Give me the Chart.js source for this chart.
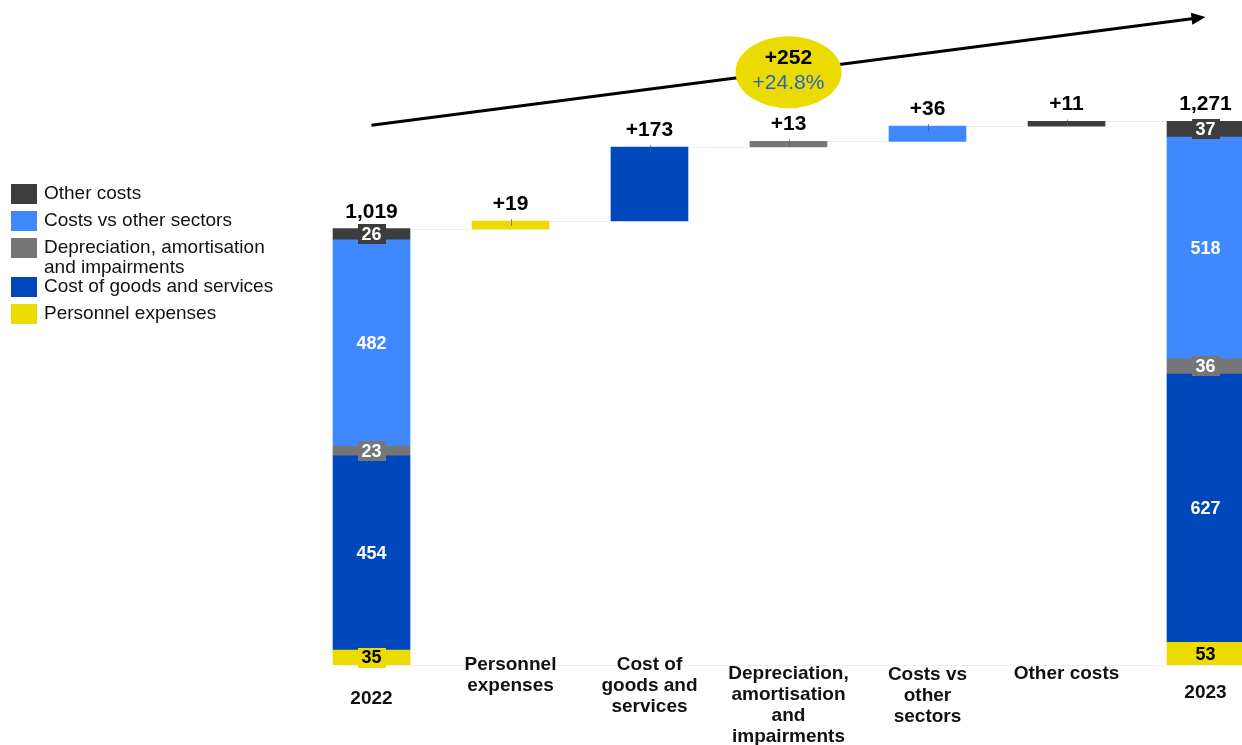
<!DOCTYPE html>
<html><head><meta charset="utf-8">
<script src="https://cdn.jsdelivr.net/npm/chart.js@4.4.0/dist/chart.umd.min.js"></script>
<style>
html,body{margin:0;padding:0;background:#fff;overflow:hidden;width:1242px;height:745px}
#wrap{position:absolute;left:0;top:0;width:1280px;height:745px}
</style></head><body>
<div id="wrap"><canvas id="c" width="1280" height="745"></canvas></div>
<script>
const categories = [['2022'], ['Personnel','expenses'], ['Cost of','goods and','services'], ['Depreciation,','amortisation','and','impairments'], ['Costs vs','other','sectors'], ['Other costs'], ['2023']];
const components = ['Personnel expenses','Cost of goods and services','Depreciation, amortisation and impairments','Costs vs other sectors','Other costs'];
const legendLabels = [['Personnel expenses'],['Cost of goods and services'],['Depreciation, amortisation','and impairments'],['Costs vs other sectors'],['Other costs']];
const values2022 = [35, 454, 23, 482, 26];
const values2023 = [53, 627, 36, 518, 37];
const deltas = [19, 173, 13, 36, 11];
const total2022 = 1019;
const total2023 = 1271;
const totalChange = 252;
const pctChange = 24.8;
const colors = ['#EBDB00', '#0047BB', '#767676', '#4088FF', '#3D3D3D'];

const FONT = "'Liberation Sans', Arial, sans-serif";
const last = categories.length - 1;
let s22 = 0, s23 = 0, run = total2022;
const datasets = components.map((name, i) => {
  const data = new Array(categories.length).fill(null);
  data[0] = [s22, s22 + values2022[i]]; s22 += values2022[i];
  data[i + 1] = [run, run + deltas[i]]; run += deltas[i];
  data[last] = [s23, s23 + values2023[i]]; s23 += values2023[i];
  return { label: name, data, backgroundColor: colors[i], borderWidth: 0, barThickness: 77 };
});

const annot = {
  id: 'annot',
  afterDatasetsDraw(chart, args, o) {
    const ctx = chart.ctx, xs = chart.scales.x, ys = chart.scales.y, area = chart.chartArea;
    ctx.save();
    // baseline
    const by = Math.round(ys.getPixelForValue(0)) + 0.5;
    ctx.strokeStyle = '#efefef'; ctx.lineWidth = 1;
    ctx.beginPath(); ctx.moveTo(area.left + 40, by); ctx.lineTo(area.right, by); ctx.stroke();
    // connectors
    ctx.strokeStyle = '#dddddd'; ctx.setLineDash([2, 2]);
    let lvl = total2022;
    for (let k = 0; k < last; k++) {
      if (k > 0) lvl += deltas[k - 1];
      const y = Math.round(ys.getPixelForValue(lvl)) + 0.5;
      ctx.beginPath();
      ctx.moveTo(xs.getPixelForValue(k) + 39, y);
      ctx.lineTo(xs.getPixelForValue(k + 1) - 39, y);
      ctx.stroke();
    }
    ctx.setLineDash([]);
    ctx.textAlign = 'center'; ctx.textBaseline = 'middle';
    // segment labels
    chart.data.datasets.forEach((ds, i) => {
      const meta = chart.getDatasetMeta(i);
      [[0, values2022[i]], [last, values2023[i]]].forEach(([j, v]) => {
        const el = meta.data[j];
        const h = Math.abs(el.base - el.y);
        const cy = (el.y + el.base) / 2;
        ctx.font = 'bold 18px ' + FONT;
        if (h < 24) {
          ctx.fillStyle = colors[i];
          ctx.fillRect(Math.round(el.x - 14), Math.round(cy - 10), 28, 20);
        }
        ctx.fillStyle = i === 0 ? '#000' : '#fff';
        ctx.fillText(String(v), el.x, cy + 1);
      });
      // delta labels
      const el = meta.data[i + 1];
      ctx.strokeStyle = 'rgba(90,90,90,0.7)'; ctx.lineWidth = 1;
      ctx.beginPath(); ctx.moveTo(Math.round(el.x) + 0.5, el.y - 2); ctx.lineTo(Math.round(el.x) + 0.5, el.y + 5); ctx.stroke();
      ctx.fillStyle = '#000'; ctx.font = 'bold 21px ' + FONT;
      ctx.fillText('+' + deltas[i], el.x, el.y - 17);
    });
    // totals
    ctx.font = 'bold 21px ' + FONT; ctx.fillStyle = '#000';
    const n = chart.data.datasets.length - 1;
    const t0 = chart.getDatasetMeta(n).data[0], t1 = chart.getDatasetMeta(n).data[last];
    ctx.fillText(total2022.toLocaleString('en-US'), t0.x, t0.y - 17);
    ctx.fillText(total2023.toLocaleString('en-US'), t1.x, t1.y - 17);
    // arrow
    const x1 = xs.getPixelForValue(0), y1 = ys.getPixelForValue(o.arrowFrom);
    const x2 = xs.getPixelForValue(last), y2 = ys.getPixelForValue(o.arrowTo);
    const ang = Math.atan2(y2 - y1, x2 - x1);
    ctx.strokeStyle = '#000'; ctx.lineWidth = 3;
    ctx.beginPath(); ctx.moveTo(x1, y1); ctx.lineTo(x2 - 10 * Math.cos(ang), y2 - 10 * Math.sin(ang)); ctx.stroke();
    ctx.fillStyle = '#000';
    ctx.beginPath();
    ctx.moveTo(x2, y2);
    ctx.lineTo(x2 - 14 * Math.cos(ang) + 6 * Math.sin(ang), y2 - 14 * Math.sin(ang) - 6 * Math.cos(ang));
    ctx.lineTo(x2 - 14 * Math.cos(ang) - 6 * Math.sin(ang), y2 - 14 * Math.sin(ang) + 6 * Math.cos(ang));
    ctx.closePath(); ctx.fill();
    // ellipse
    const ex = xs.getPixelForValue(o.bubbleCat), ey = ys.getPixelForValue(o.bubbleAt);
    ctx.fillStyle = colors[0];
    ctx.beginPath(); ctx.ellipse(ex, ey, 53, 36, 0, 0, Math.PI * 2); ctx.fill();
    ctx.fillStyle = '#000'; ctx.font = 'bold 21px ' + FONT;
    ctx.fillText('+' + totalChange, ex, ey - 14);
    ctx.fillStyle = '#2B62C4'; ctx.font = '21px ' + FONT;
    ctx.fillText('+' + pctChange.toFixed(1) + '%', ex, ey + 11);
    ctx.restore();
  },
  afterDraw(chart, args, o) {
    const ctx = chart.ctx, xs = chart.scales.x;
    ctx.save();
    ctx.textAlign = 'center'; ctx.textBaseline = 'middle';
    ctx.fillStyle = '#111'; ctx.font = 'bold 19px ' + FONT;
    chart.data.labels.forEach((lines, j) => {
      lines.forEach((t, k) => ctx.fillText(t, xs.getPixelForValue(j), o.labelY[j] + k * 21));
    });
    // legend
    ctx.textAlign = 'left';
    ctx.font = '19px ' + FONT;
    let y = o.legendTop;
    for (let i = chart.data.datasets.length - 1; i >= 0; i--) {
      ctx.fillStyle = colors[i];
      ctx.fillRect(11, y - 10, 26, 20);
      ctx.fillStyle = '#111';
      legendLabels[i].forEach((t, k) => ctx.fillText(t, 44, y + k * 20));
      y += 27 + (legendLabels[i].length - 1) * 12;
    }
    ctx.restore();
  }
};

new Chart(document.getElementById('c'), {
  type: 'bar',
  data: { labels: categories, datasets },
  options: {
    responsive: false, animation: false,
    layout: { padding: { left: 302, right: 5, top: 2, bottom: 80 } },
    plugins: {
      legend: { display: false }, tooltip: { enabled: false },
      annot: { arrowFrom: 1262, arrowTo: 1515, bubbleCat: 3, bubbleAt: 1386, labelY: [699, 665, 665, 674, 675, 674, 693], legendTop: 194 }
    },
    scales: {
      x: { display: false, stacked: true },
      y: { display: false, stacked: false, min: 0, max: 1550 }
    }
  },
  plugins: [annot]
});
</script>
</body></html>
